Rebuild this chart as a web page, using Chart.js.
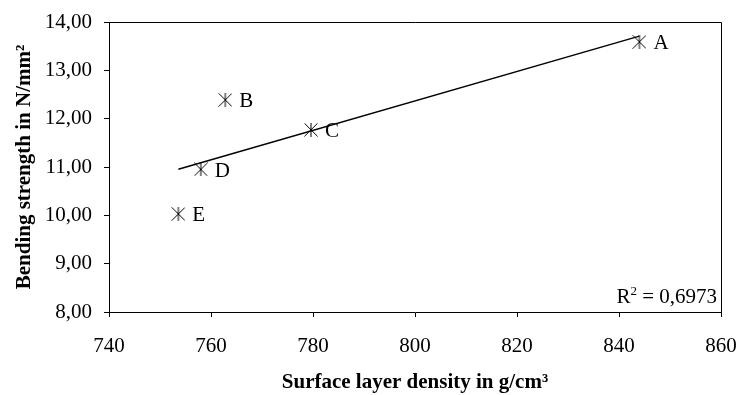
<!DOCTYPE html>
<html>
<head>
<meta charset="utf-8">
<script src="https://cdn.jsdelivr.net/npm/chart.js@4/dist/chart.umd.min.js"></script>
<style>
  html, body { margin: 0; padding: 0; background: #fff; }
  #wrap { width: 739px; height: 395px; }
</style>
</head>
<body>
<div id="wrap"><canvas id="chart"></canvas></div>
<script>
// boards A-E: surface layer density vs bending strength
const boardNames = ["A", "B", "C", "D", "E"];
const densityValues = [844, 762.8, 779.6, 758, 753.6];
const strengthValues = [13.59, 12.39, 11.77, 10.95, 10.03];
const xTicks = [740, 760, 780, 800, 820, 840, 860];
const yTicks = [8, 9, 10, 11, 12, 13, 14];
const r2Text = "0,6973";

const FONT = "'Liberation Serif', 'Times New Roman', serif";

// least squares trend line between the smallest and largest density
function linearFit(xs, ys) {
  const n = xs.length;
  const mx = xs.reduce((a, b) => a + b, 0) / n;
  const my = ys.reduce((a, b) => a + b, 0) / n;
  let sxy = 0, sxx = 0;
  for (let i = 0; i < n; i++) {
    sxy += (xs[i] - mx) * (ys[i] - my);
    sxx += (xs[i] - mx) * (xs[i] - mx);
  }
  const slope = sxy / sxx;
  return x => my + slope * (x - mx);
}
const fit = linearFit(densityValues, strengthValues);
const xMin = Math.min(...densityValues), xMax = Math.max(...densityValues);
const trendPoints = [{ x: xMin, y: fit(xMin) }, { x: xMax, y: fit(xMax) }];

// Excel-like star marker: X plus a vertical bar
function starMarker(size) {
  const c = document.createElement("canvas");
  c.width = size; c.height = size;
  const g = c.getContext("2d");
  const h = size / 2, r = h - 0.5;
  g.strokeStyle = "#000";
  g.lineWidth = 1;
  g.beginPath();
  g.moveTo(h - r, h - r); g.lineTo(h + r, h + r);
  g.moveTo(h + r, h - r); g.lineTo(h - r, h + r);
  g.moveTo(h, 0); g.lineTo(h, size);
  g.stroke();
  return c;
}

const framePlugin = {
  id: "frame",
  afterDraw(chart) {
    const { ctx, chartArea: a } = chart;
    ctx.save();
    ctx.strokeStyle = "#000";
    ctx.lineWidth = 1;
    ctx.beginPath();
    ctx.moveTo(a.left, a.top + 0.5);
    ctx.lineTo(a.right + 0.5, a.top + 0.5);
    ctx.lineTo(a.right + 0.5, a.bottom);
    ctx.stroke();

    // point names
    const meta = chart.getDatasetMeta(0);
    ctx.fillStyle = "#000";
    ctx.font = "21px " + FONT;
    ctx.textAlign = "left";
    ctx.textBaseline = "middle";
    meta.data.forEach((pt, i) => {
      ctx.fillText(boardNames[i], pt.x + 14, pt.y + 2);
    });

    // R² note
    ctx.textAlign = "right";
    ctx.textBaseline = "alphabetic";
    const main = " = " + r2Text;
    const mainW = ctx.measureText(main).width;
    const x0 = a.right - 4, y0 = a.bottom - 9;
    ctx.fillText(main, x0, y0);
    ctx.font = "13px " + FONT;
    const supW = ctx.measureText("2").width;
    ctx.fillText("2", x0 - mainW, y0 - 8);
    ctx.font = "21px " + FONT;
    ctx.fillText("R", x0 - mainW - supW, y0);
    ctx.restore();
  }
};

createChart();

function createChart() {
  const canvas = document.getElementById("chart");
  new Chart(canvas.getContext("2d"), {
    type: "scatter",
    data: {
      datasets: [
        {
          label: "Boards",
          data: densityValues.map((x, i) => ({ x: x, y: strengthValues[i] })),
          pointStyle: starMarker(14),
          pointRadius: 7,
          showLine: false
        },
        {
          label: "Trend",
          type: "line",
          data: trendPoints,
          borderColor: "#000",
          borderWidth: 1.5,
          pointRadius: 0,
          fill: false
        }
      ]
    },
    options: {
      responsive: true,
      maintainAspectRatio: false,
      animation: false,
      layout: { padding: { top: 22, right: 18, left: 0, bottom: 0 } },
      plugins: { legend: { display: false }, tooltip: { enabled: false } },
      scales: {
        x: {
          type: "linear",
          min: 740, max: 860,
          afterBuildTicks: s => { s.ticks = xTicks.map(v => ({ value: v })); },
          afterFit: s => { s.height = 83; s.paddingLeft = 0; s.paddingRight = 0; },
          grid: { display: true, drawOnChartArea: false, tickLength: 5, color: "#000" },
          border: { color: "#000", width: 1 },
          ticks: { color: "#000", padding: 17, font: { family: FONT, size: 21 }, maxRotation: 0 },
          title: {
            display: true,
            text: "Surface layer density in g/cm³",
            color: "#000",
            font: { family: FONT, size: 21, weight: "bold" },
            padding: { top: 0, bottom: 0 }
          }
        },
        y: {
          min: 8, max: 14,
          afterBuildTicks: s => { s.ticks = yTicks.map(v => ({ value: v })); },
          afterFit: s => { s.width = 109; s.paddingTop = 0; s.paddingBottom = 0; },
          grid: { display: true, drawOnChartArea: false, tickLength: 5, color: "#000" },
          border: { color: "#000", width: 1 },
          ticks: {
            color: "#000", padding: 12,
            font: { family: FONT, size: 21 },
            callback: v => v.toFixed(2).replace(".", ",")
          },
          title: {
            display: true,
            text: "Bending strength in N/mm²",
            color: "#000",
            font: { family: FONT, size: 21, weight: "bold" },
            padding: { top: 12, bottom: 0 }
          }
        }
      }
    },
    plugins: [framePlugin]
  });
}
</script>
</body>
</html>
